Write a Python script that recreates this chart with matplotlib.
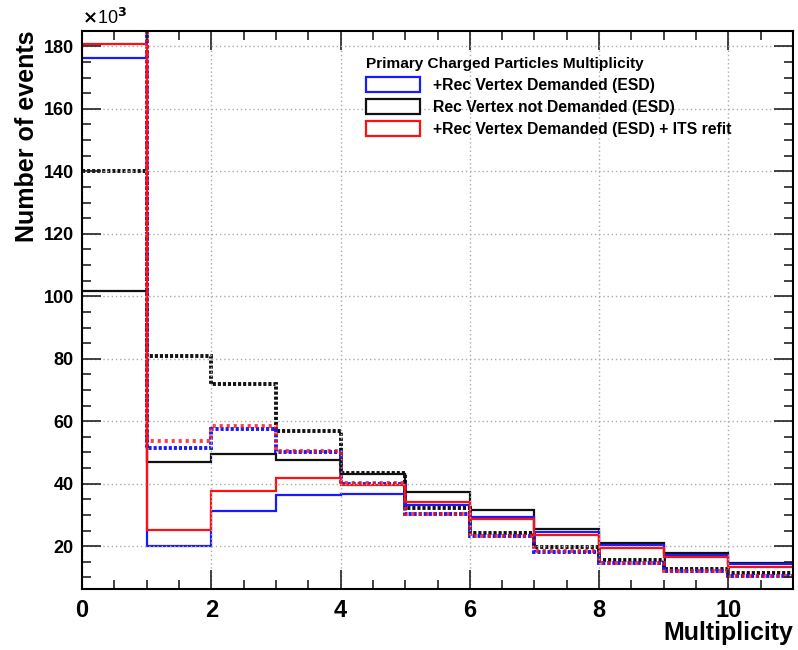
import matplotlib
matplotlib.use('Agg')
import matplotlib.pyplot as plt
import matplotlib.patches as mpatches
from matplotlib.ticker import MultipleLocator
import numpy as np

# bin edges of the multiplicity histogram
edges = np.arange(0, 12)

# solid histograms (x10^3 events)
blue_solid = [176.3, 20.0, 31.3, 36.4, 36.6, 33.3, 29.2, 24.4, 20.4, 17.1, 14.2]
black_solid = [101.6, 47.1, 49.4, 47.5, 43.0, 37.4, 31.6, 25.5, 21.1, 17.8, 14.6]
red_solid = [180.6, 25.3, 37.7, 41.8, 39.5, 34.2, 28.8, 23.7, 19.5, 16.4, 13.5]

# dotted histograms (first bin goes off scale)
black_dotted = [140.2, 81.0, 72.0, 57.0, 43.4, 32.3, 24.2, 19.8, 15.5, 12.7, 11.5]
red_dotted = [196.0, 53.6, 58.6, 50.6, 40.2, 30.4, 23.3, 18.4, 14.7, 12.1, 10.6]
blue_dotted = [192.0, 51.5, 57.5, 50.0, 40.0, 30.3, 23.2, 18.3, 14.6, 12.0, 10.5]

legend_title = 'Primary Charged Particles Multiplicity'
legend_labels = ['+Rec Vertex Demanded (ESD)',
                 'Rec Vertex not Demanded (ESD)',
                 '+Rec Vertex Demanded (ESD) + ITS refit']

BLUE = '#1a1aff'
RED = '#ff1010'
BLACK = '#111111'

plt.rcParams['font.family'] = ['Liberation Sans', 'DejaVu Sans']
plt.rcParams['font.weight'] = 'bold'

fig = plt.figure(figsize=(7.98, 6.5), dpi=100)
ax = fig.add_axes([0.1028, 0.0938, 0.8909, 0.859])

dot = (0, (0.8, 0.5))
ax.stairs(black_dotted, edges, baseline=None, color=BLACK, lw=2.8, ls=dot)
ax.stairs(blue_dotted, edges, baseline=None, color=BLUE, lw=2.8, ls=dot)
ax.stairs(red_dotted, edges, baseline=None, color=RED, lw=2.8, ls=(0.6, (0.8, 1.0)), alpha=0.8)
ax.stairs(black_solid, edges, baseline=None, color=BLACK, lw=1.6)
ax.stairs(blue_solid, edges, baseline=None, color=BLUE, lw=1.6)
ax.stairs(red_solid, edges, baseline=None, color=RED, lw=1.6)

ax.set_xlim(0, 11)
ax.set_ylim(6.3, 185)
ax.xaxis.set_major_locator(MultipleLocator(2))
ax.xaxis.set_minor_locator(MultipleLocator(0.5))
ax.yaxis.set_major_locator(MultipleLocator(20))
ax.yaxis.set_minor_locator(MultipleLocator(5))
ax.tick_params(which='both', direction='in', top=True, right=True, width=1.2, colors='#222222')
ax.tick_params(which='major', length=14)
ax.tick_params(which='minor', length=6.5)
ax.tick_params(axis='x', which='major', labelsize=17, pad=7, labelcolor='black')
ax.tick_params(axis='y', which='major', labelsize=13, pad=6, labelcolor='black')
ax.grid(True, which='major', color='#aaaaaa', ls=(0, (1, 2)), lw=1.0)
for s in ax.spines.values():
    s.set_linewidth(1.5)

ax.text(-0.077, 1.0, 'Number of events', transform=ax.transAxes, rotation=90,
        ha='center', va='top', fontsize=18, fontweight='bold')
ax.text(1.0, -0.079, 'Multiplicity', transform=ax.transAxes,
        ha='right', va='center', fontsize=18, fontweight='bold')
ax.text(0.0, 1.005, r'$\times$10$^{3}$', transform=ax.transAxes,
        ha='left', va='bottom', fontsize=13, fontweight='normal')

handles = [mpatches.Patch(facecolor='white', edgecolor=c, lw=1.6) for c in (BLUE, BLACK, RED)]
leg = ax.legend(handles, legend_labels, title=legend_title, loc='upper left',
                bbox_to_anchor=(0.380, 0.979), frameon=False, alignment='left',
                fontsize=11.3, handlelength=3.4, handleheight=1.1,
                handletextpad=0.85, labelspacing=0.4,
                title_fontproperties={'weight': 'bold', 'size': 11.1})

fig.savefig('out.png', dpi=100, facecolor='white')
